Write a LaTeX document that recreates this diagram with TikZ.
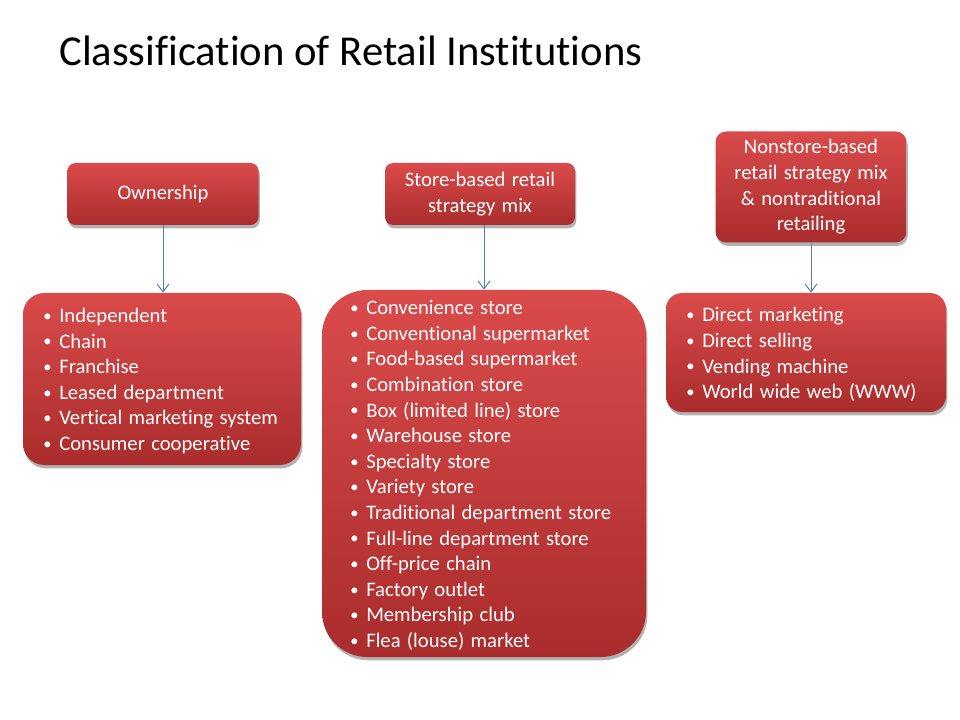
\documentclass[tikz,border=0pt]{standalone}
\usepackage{fontspec}
\setmainfont{Carlito}[Ligatures={NoCommon,NoContextual}]
\newfontfamily\boxfont{Carlito}[Ligatures={NoCommon,NoContextual},WordSpace=1.35]
\usetikzlibrary{arrows.meta,shadows}
\definecolor{redtop}{HTML}{DA4B4B}
\definecolor{redbot}{HTML}{AA2C2C}
\definecolor{arrowblue}{HTML}{4F81BD}
\newcommand\bul{\makebox[12pt][l]{\raisebox{0.12ex}{\scalebox{0.8}{\textbullet}}}}
\begin{document}
\begin{tikzpicture}[x=0.75pt,y=-0.75pt,
  box/.style={rounded corners=#1, top color=redtop, bottom color=redbot, draw=none,
    drop shadow={opacity=0.3,shadow xshift=1pt,shadow yshift=-2.5pt,fill=black},
    inner sep=0pt, text=white, align=center, font=\boxfont\fontsize{15.5}{19.2}\selectfont},
  lst/.style={inner sep=0pt, text=white, align=left, anchor=west,
    font=\boxfont\fontsize{15.5}{19.2}\selectfont},
  arr/.style={draw=arrowblue, line width=0.75pt, -{Straight Barb[length=6pt,width=9pt]}}]
\fill[white] (0,0) rectangle (960,720);
\useasboundingbox (0,0) rectangle (960,720);
\node[anchor=base west, inner sep=0pt, font=\fontsize{32}{38}\selectfont] (title) at (59,66) {Classification of Retail Institutions};
% top boxes
\node[box=6pt, minimum width=143.25pt, minimum height=46.5pt] (own) at (163,194) {Ownership};
\node[box=6pt, minimum width=142.5pt, minimum height=46.5pt] (store) at (480,194) {Store-based retail\\strategy mix};
\node[box=8pt, minimum width=143.25pt, minimum height=83.25pt] (non) at (811,187) {Nonstore-based\\retail strategy mix\\\& nontraditional\\retailing};
% list boxes
\node[box=16pt, minimum width=208.5pt, minimum height=129pt] (l1) at (162,379) {};
\node[box=34pt, minimum width=243pt, minimum height=275.25pt] (l2) at (484,473.5) {};
\node[box=12pt, minimum width=210pt, minimum height=89.25pt] (l3) at (806,352.5) {};
\node[lst] (t1) at (43,381) {\bul Independent\\\bul Chain\\\bul Franchise\\\bul Leased department\\\bul Vertical marketing system\\\bul Consumer cooperative};
\node[lst] (t2) at (350,475.5) {\bul Convenience store\\\bul Conventional supermarket\\\bul Food-based supermarket\\\bul Combination store\\\bul Box (limited line) store\\\bul Warehouse store\\\bul Specialty store\\\bul Variety store\\\bul Traditional department store\\\bul Full-line department store\\\bul Off-price chain\\\bul Factory outlet\\\bul Membership club\\\bul Flea (louse) market};
\node[lst] (t3) at (686,354.5) {\bul Direct marketing\\\bul Direct selling\\\bul Vending machine\\\bul World wide web (WWW)};
% connectors
\draw[arr] (own.south) -- (own.south |- l1.north);
\draw[arr] (store.south -| l2.north) -- (l2.north);
\draw[arr] (non.south) -- (non.south |- l3.north);
\end{tikzpicture}
\end{document}
